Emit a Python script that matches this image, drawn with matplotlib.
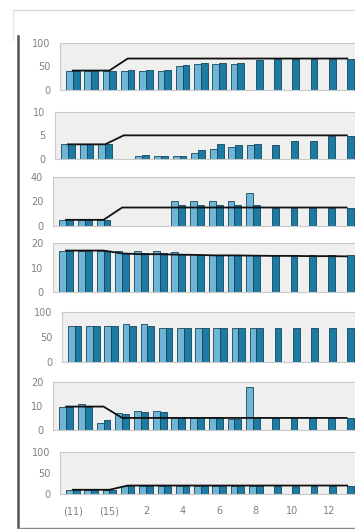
import numpy as np
import matplotlib
matplotlib.use("Agg")
import matplotlib.pyplot as plt
from matplotlib.lines import Line2D

nan = np.nan

categories = ["(11)", "(13)", "(15)", "1", "2", "3", "4", "5", "6", "7",
              "8", "9", "10", "11", "12", "13"]

# panel 1 (0-100)
p1_dark = [41, 41, 41, 42, 42, 42, 53, 57, 57, 57, 64, 67, 67, 67, 67, 67]
p1_light = [41, 41, 41, 41, 41, 41, 50, 55, 55, 55, nan, nan, nan, nan, nan, nan]
p1_line = [41, 41, 41, 67, 67, 67, 67, 67, 67, 67, 67, 67, 67, 67, 67, 67]

# panel 2 (0-10)
p2_dark = [3.1, 3.1, 3.1, nan, 0.8, 0.7, 0.7, 1.9, 3.1, 3.0, 3.1, 3.0, 3.8, 3.8, 4.9, 4.9]
p2_light = [3.1, 3.1, 3.1, nan, 0.6, 0.7, 0.7, 1.2, 2.2, 2.6, 3.0, nan, nan, nan, nan, nan]
p2_line = [3.1, 3.1, 3.1, 5, 5, 5, 5, 5, 5, 5, 5, 5, 5, 5, 5, 5]

# panel 3 (0-40)
p3_dark = [4.5, 4.5, 4.5, nan, nan, nan, 17, 17, 17, 17, 17, 15, 15, 15, 15, 15]
p3_light = [4.5, 4.5, 4.5, nan, nan, nan, 20, 20, 20, 20, 27, nan, nan, nan, nan, nan]
p3_line = [5, 5, 5, 15, 15, 15, 15, 15, 15, 15, 15, 15, 15, 15, 15, 15]

# panel 4 (0-20)
p4_dark = [17, 17, 17, 16, 16, 16, 15.5, 15, 15, 15, 15, 15, 15, 15, 15, 15]
p4_light = [17, 17, 17, 16.8, 16.8, 16.8, 16.5, 15.5, 15, 15, 15, nan, nan, nan, nan, nan]
p4_line = [17, 17, 17, 15.8, 15.5, 15.5, 15.3, 15.2, 15, 15, 14.9, 14.8, 14.8, 14.7, 14.7, 14.6]

# panel 5 (0-100)
p5_dark = [71, 71, 71, 71, 71, 68, 68, 68, 68, 68, 68, 68, 68, 68, 68, 68]
p5_light = [71, 71, 72, 75, 76, 68, 68, 68, 68, 68, 68, nan, nan, nan, nan, nan]
p5_line = None

# panel 6 (0-20)
p6_dark = [9.7, 9.7, 4, 6.5, 7.5, 7.5, 5, 5, 5, 4.5, 5, 5, 5, 5, 5, 5]
p6_light = [9.7, 10.8, 3, 7, 8, 8, 5, 5, 5, 4.5, 18, nan, nan, nan, nan, nan]
p6_line = [9.7, 9.7, 9.7, 5, 5, 5, 5, 5, 5, 5, 5, 5, 5, 5, 5, 5]

# panel 7 (0-100)
p7_dark = [10, 10, 10, 20, 20, 20, 20, 20, 20, 20, 20, 20, 20, 20, 20, 20]
p7_light = [10, 10, 10, 20, 20, 20, 20, 20, 20, 20, 20, nan, nan, nan, nan, nan]
p7_line = [10, 10, 10, 20, 20, 20, 20, 20, 20, 20, 20, 20, 20, 20, 20, 20]

panel_ymax = [100, 10, 40, 20, 100, 20, 100]
panel_ticks = [[0, 50, 100], [0, 5, 10], [0, 20, 40], [0, 10, 20],
               [0, 50, 100], [0, 10, 20], [0, 50, 100]]

panels = [
    (p1_dark, p1_light, p1_line),
    (p2_dark, p2_light, p2_line),
    (p3_dark, p3_light, p3_line),
    (p4_dark, p4_light, p4_line),
    (p5_dark, p5_light, p5_line),
    (p6_dark, p6_light, p6_line),
    (p7_dark, p7_light, p7_line),
]

# layout in pixels: (left, top, bottom)
W, H = 355, 529
RIGHT = 371
boxes = [(60, 43.3, 89.5), (55, 111.7, 159), (53, 176.7, 226), (53, 243.3, 291.7),
         (62, 311.7, 361.7), (53, 381.7, 430), (60, 451.7, 494)]

DARK = "#1c7aa3"
LIGHT = "#6fb5d6"
EDGE = "#17465b"
BW = 0.37

fig = plt.figure(figsize=(W / 100, H / 100), dpi=100)
fig.patch.set_facecolor("white")

x = np.arange(len(categories))
for i, ((dark, light, line), (left, top, bottom)) in enumerate(zip(panels, boxes)):
    ax = fig.add_axes([left / W, 1 - bottom / H, (RIGHT - left) / W, (bottom - top) / H])
    ax.set_facecolor("#efefef")
    ax.bar(x - BW / 2, light, width=BW, color=LIGHT, edgecolor=EDGE, linewidth=0.6, zorder=2)
    ax.bar(x + BW / 2, dark, width=BW, color=DARK, edgecolor=EDGE, linewidth=0.6, zorder=2)
    if line is not None:
        ax.plot(x, line, color="#111111", lw=1.3, zorder=3, solid_joinstyle="round")
    ax.set_xlim(-0.7, 16.3)
    ax.set_ylim(0, panel_ymax[i])
    ax.set_yticks(panel_ticks[i])
    ax.set_yticklabels([str(t) for t in panel_ticks[i]])
    ax.tick_params(axis="y", length=0, pad=7, labelsize=7, labelcolor="#808080")
    for s in ax.spines.values():
        s.set_color("#c9c9c9")
        s.set_linewidth(0.8)
    if i == len(panels) - 1:
        ax.set_xticks(x[::2])
        ax.set_xticklabels(categories[::2])
        ax.tick_params(axis="x", length=0, pad=9, labelsize=7, labelcolor="#808080")
    else:
        ax.set_xticks([])

# frame lines around the chart area
def fig_line(x0, y0, x1, y1, color, lw):
    fig.add_artist(Line2D([x0 / W, x1 / W], [1 - y0 / H, 1 - y1 / H],
                          transform=fig.transFigure, color=color, lw=lw))

fig_line(13, 10, 355, 10, "#dcdcdc", 1.0)
fig_line(13, 10, 13, 40, "#e6e6e6", 1.0)
fig_line(17.5, 36, 17.5, 528, "#555555", 1.8)
fig_line(17.5, 527.5, 355, 527.5, "#8a8a8a", 1.0)

fig.savefig("out.png", dpi=100)
